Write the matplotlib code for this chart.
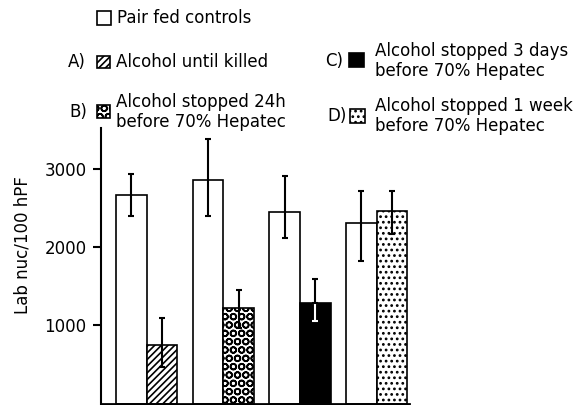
import matplotlib
matplotlib.use("Agg")
import matplotlib.pyplot as plt
import numpy as np
from matplotlib.patches import Rectangle

# valores
grupos = ["A", "B", "C", "D"]
controles = [2660, 2850, 2450, 2310]
ctrl_alto = [2930, 3380, 2910, 2720]
ctrl_bajo = [2400, 2400, 2120, 1820]
tratados = [750, 1220, 1280, 2460]
trat_alto = [1090, 1450, 1590, 2710]
trat_bajo = [470, 960, 1060, 2160]

yticks = [1000, 2000, 3000]
ylabel = "Lab nuc/100 hPF"
leyenda_ctrl = "Pair fed controls"
leyenda_trat = ["Alcohol until killed",
                "Alcohol stopped 24h\nbefore 70% Hepatec",
                "Alcohol stopped 3 days\nbefore 70% Hepatec",
                "Alcohol stopped 1 week\nbefore 70% Hepatec"]

plt.rcParams["hatch.linewidth"] = 1.2

W, H = 581, 405
fig = plt.figure(figsize=(W / 100, H / 100), dpi=100)
ax = fig.add_axes([100.5 / W, 1.5 / H, 308 / W, 275.5 / H])

x = np.arange(len(grupos))
w = 0.4
colores = ["white", "white", "black", "white"]
tramas = ["/////", "OO", "", "..."]

ax.bar(x, controles, width=w, align="edge", color="white",
       edgecolor="black", linewidth=1.2)
barras = ax.bar(x + w, tratados, width=w, align="edge",
                edgecolor="black", linewidth=1.2)
for b, c, t in zip(barras, colores, tramas):
    b.set_facecolor(c)
    b.set_hatch(t)

ctrl = np.array(controles)
trat = np.array(tratados)
err_c = [ctrl - np.array(ctrl_bajo), np.array(ctrl_alto) - ctrl]
ax.errorbar(x + w / 2, ctrl, yerr=err_c, fmt="none", ecolor="black",
            elinewidth=1.5, capsize=2.5, capthick=1.5)

# la barra negra lleva la parte de abajo en blanco
for i in range(len(grupos)):
    lo = trat[i] - trat_bajo[i]
    hi = trat_alto[i] - trat[i]
    if colores[i] == "black":
        ax.errorbar(x[i] + 1.5 * w, trat[i], yerr=[[lo], [0]], fmt="none",
                    ecolor="white", elinewidth=1.5, capsize=2.5, capthick=1.5)
        ax.errorbar(x[i] + 1.5 * w, trat[i], yerr=[[0], [hi]], fmt="none",
                    ecolor="black", elinewidth=1.5, capsize=2.5, capthick=1.5)
    else:
        ax.errorbar(x[i] + 1.5 * w, trat[i], yerr=[[lo], [hi]], fmt="none",
                    ecolor="black", elinewidth=1.5, capsize=2.5, capthick=1.5)

ax.set_xlim(-0.2, 3.815)
ax.set_ylim(0, 3520)
ax.set_xticks([])
ax.set_yticks(yticks)
ax.tick_params(axis="y", direction="out", length=6, width=1.5,
               labelsize=12, pad=4)
for s in ["top", "right"]:
    ax.spines[s].set_visible(False)
ax.spines["left"].set_linewidth(1.5)
ax.spines["bottom"].set_linewidth(2)

fig.text(23 / W, 1 - 245 / H, ylabel, rotation=90, ha="center",
         va="center", fontsize=12)


def caja(x0, y0, x1, y1, **kw):
    fig.add_artist(Rectangle((x0 / W, 1 - y1 / H), (x1 - x0) / W,
                             (y1 - y0) / H, transform=fig.transFigure,
                             edgecolor="black", linewidth=1.2, **kw))


def texto(xp, yp, s):
    fig.text(xp / W, 1 - yp / H, s, ha="left", va="center", fontsize=12,
             linespacing=1.15)


caja(97, 11, 111, 25, facecolor="white")
texto(117, 18, leyenda_ctrl)

# posiciones de la leyenda: letra, caja, texto
pos = [(68, 62, 97, 56, 110, 68, 116),
       (69, 112, 97, 105, 110, 118, 116),
       (325, 61, 349, 53, 364, 67, 375),
       (327, 116, 350, 109, 365, 123, 375)]
for g, t, c, tr, p in zip(grupos, leyenda_trat, colores, tramas, pos):
    texto(p[0], p[1], g + ")")
    caja(p[2], p[3], p[4], p[5], facecolor=c, hatch=tr)
    texto(p[6], p[1], t)

fig.savefig("out.png", dpi=100)
